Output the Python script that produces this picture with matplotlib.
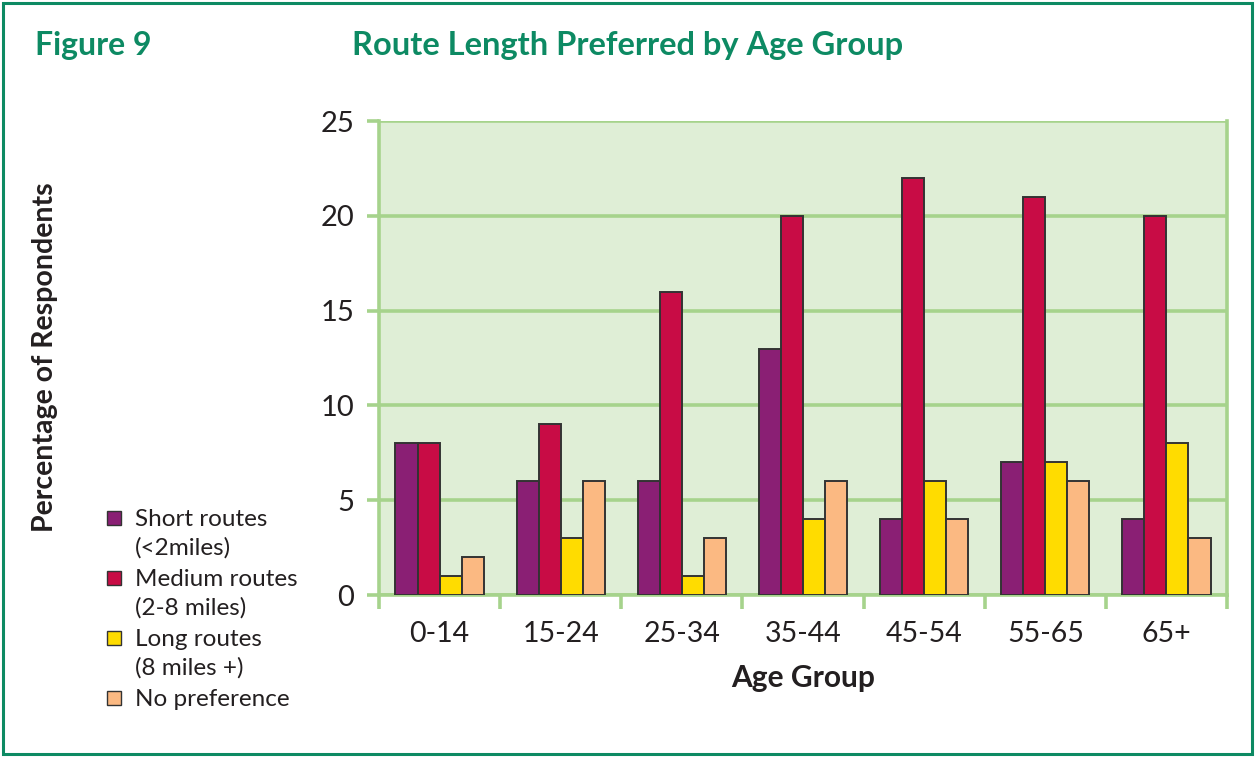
import matplotlib
matplotlib.use("Agg")
import matplotlib.pyplot as plt
from matplotlib.patches import Rectangle
import numpy as np

plt.rcParams['font.family'] = ['Lato', 'DejaVu Sans']

age_groups = ["0-14", "15-24", "25-34", "35-44", "45-54", "55-65", "65+"]
short_routes = [8, 6, 6, 13, 4, 7, 4]
medium_routes = [8, 9, 16, 20, 22, 21, 20]
long_routes = [1, 3, 1, 4, 6, 7, 8]
no_preference = [2, 6, 3, 6, 4, 6, 3]

series_labels = ["Short routes\n(<2miles)", "Medium routes\n(2-8 miles)",
                 "Long routes\n(8 miles +)", "No preference"]
series_values = [short_routes, medium_routes, long_routes, no_preference]
series_colors = ["#8a1f74", "#c80c45", "#ffdc00", "#fbb982"]
y_ticks = [0, 5, 10, 15, 20, 25]

GREEN = "#0d8a63"
GRID = "#a6d38c"
PANEL = "#dfeed6"
TEXT = "#231f20"

W, H = 1258, 757
fig = plt.figure(figsize=(W / 100, H / 100), dpi=100)
fig.patch.set_facecolor("white")

def fx(px):
    return px / W

def fy(py):
    return 1 - py / H

# outer frame
fig.add_artist(Rectangle((fx(3), fy(754)), fx(1249), 751 / H, transform=fig.transFigure,
                         fill=False, edgecolor=GREEN, linewidth=2.2))

fig.text(fx(35), fy(46), "Figure 9", color=GREEN, fontsize=23, fontweight="bold",
         va="center", ha="left")
fig.text(fx(352), fy(46), "Route Length Preferred by Age Group", color=GREEN, fontsize=23.5,
         fontweight="bold", va="center", ha="left")

ax = fig.add_axes([fx(379), fy(595), fx(1227) - fx(379), (595 - 121) / H])
ax.set_facecolor(PANEL)

x = np.arange(len(age_groups))
n = len(series_values)
bar_w = 0.182
for i, (vals, col) in enumerate(zip(series_values, series_colors)):
    offs = (i - (n - 1) / 2) * bar_w
    ax.bar(x + offs, vals, width=bar_w, color=col, edgecolor="#333333", linewidth=1.4,
           zorder=3)

ax.set_xlim(-0.5, len(age_groups) - 0.5)
ax.set_ylim(0, 25)
ax.set_yticks(y_ticks)
ax.set_yticklabels([str(t) for t in y_ticks])
ax.yaxis.grid(True, color=GRID, linewidth=2.6, zorder=1)
ax.set_axisbelow(True)

ax.set_xticks(x)
ax.set_xticklabels(age_groups)
ax.set_xticks(np.arange(-0.5, len(age_groups) + 0.5, 1), minor=True)
ax.tick_params(axis="x", which="major", length=0, pad=19, labelsize=20.5, labelcolor=TEXT)
ax.tick_params(axis="x", which="minor", length=10, width=2.6, color=GRID)
ax.tick_params(axis="y", length=9, width=2.6, color=GRID, pad=9, labelsize=21,
               labelcolor=TEXT)

for side in ["left", "bottom", "right", "top"]:
    ax.spines[side].set_color(GRID)
    ax.spines[side].set_linewidth(2.6)
ax.spines["top"].set_visible(False)

ax.set_xlabel("Age Group", fontsize=21.5, fontweight="bold", color=TEXT, labelpad=12)

fig.text(fx(45), fy(357), "Percentage of Respondents", rotation=90, fontsize=20.5,
         fontweight="bold", color=TEXT, ha="center", va="center")

# legend
first_rows = [518, 578, 638, 698]
for lab, col, ry in zip(series_labels, series_colors, first_rows):
    fig.add_artist(Rectangle((fx(107), fy(ry + 7)), fx(14), 14 / H, transform=fig.transFigure,
                             facecolor=col, edgecolor="#333333", linewidth=1.0))
    fig.text(fx(135), fy(ry - 9), lab, fontsize=17.5, color=TEXT, ha="left", va="top",
             linespacing=1.43)

fig.savefig("out.png", dpi=100)
